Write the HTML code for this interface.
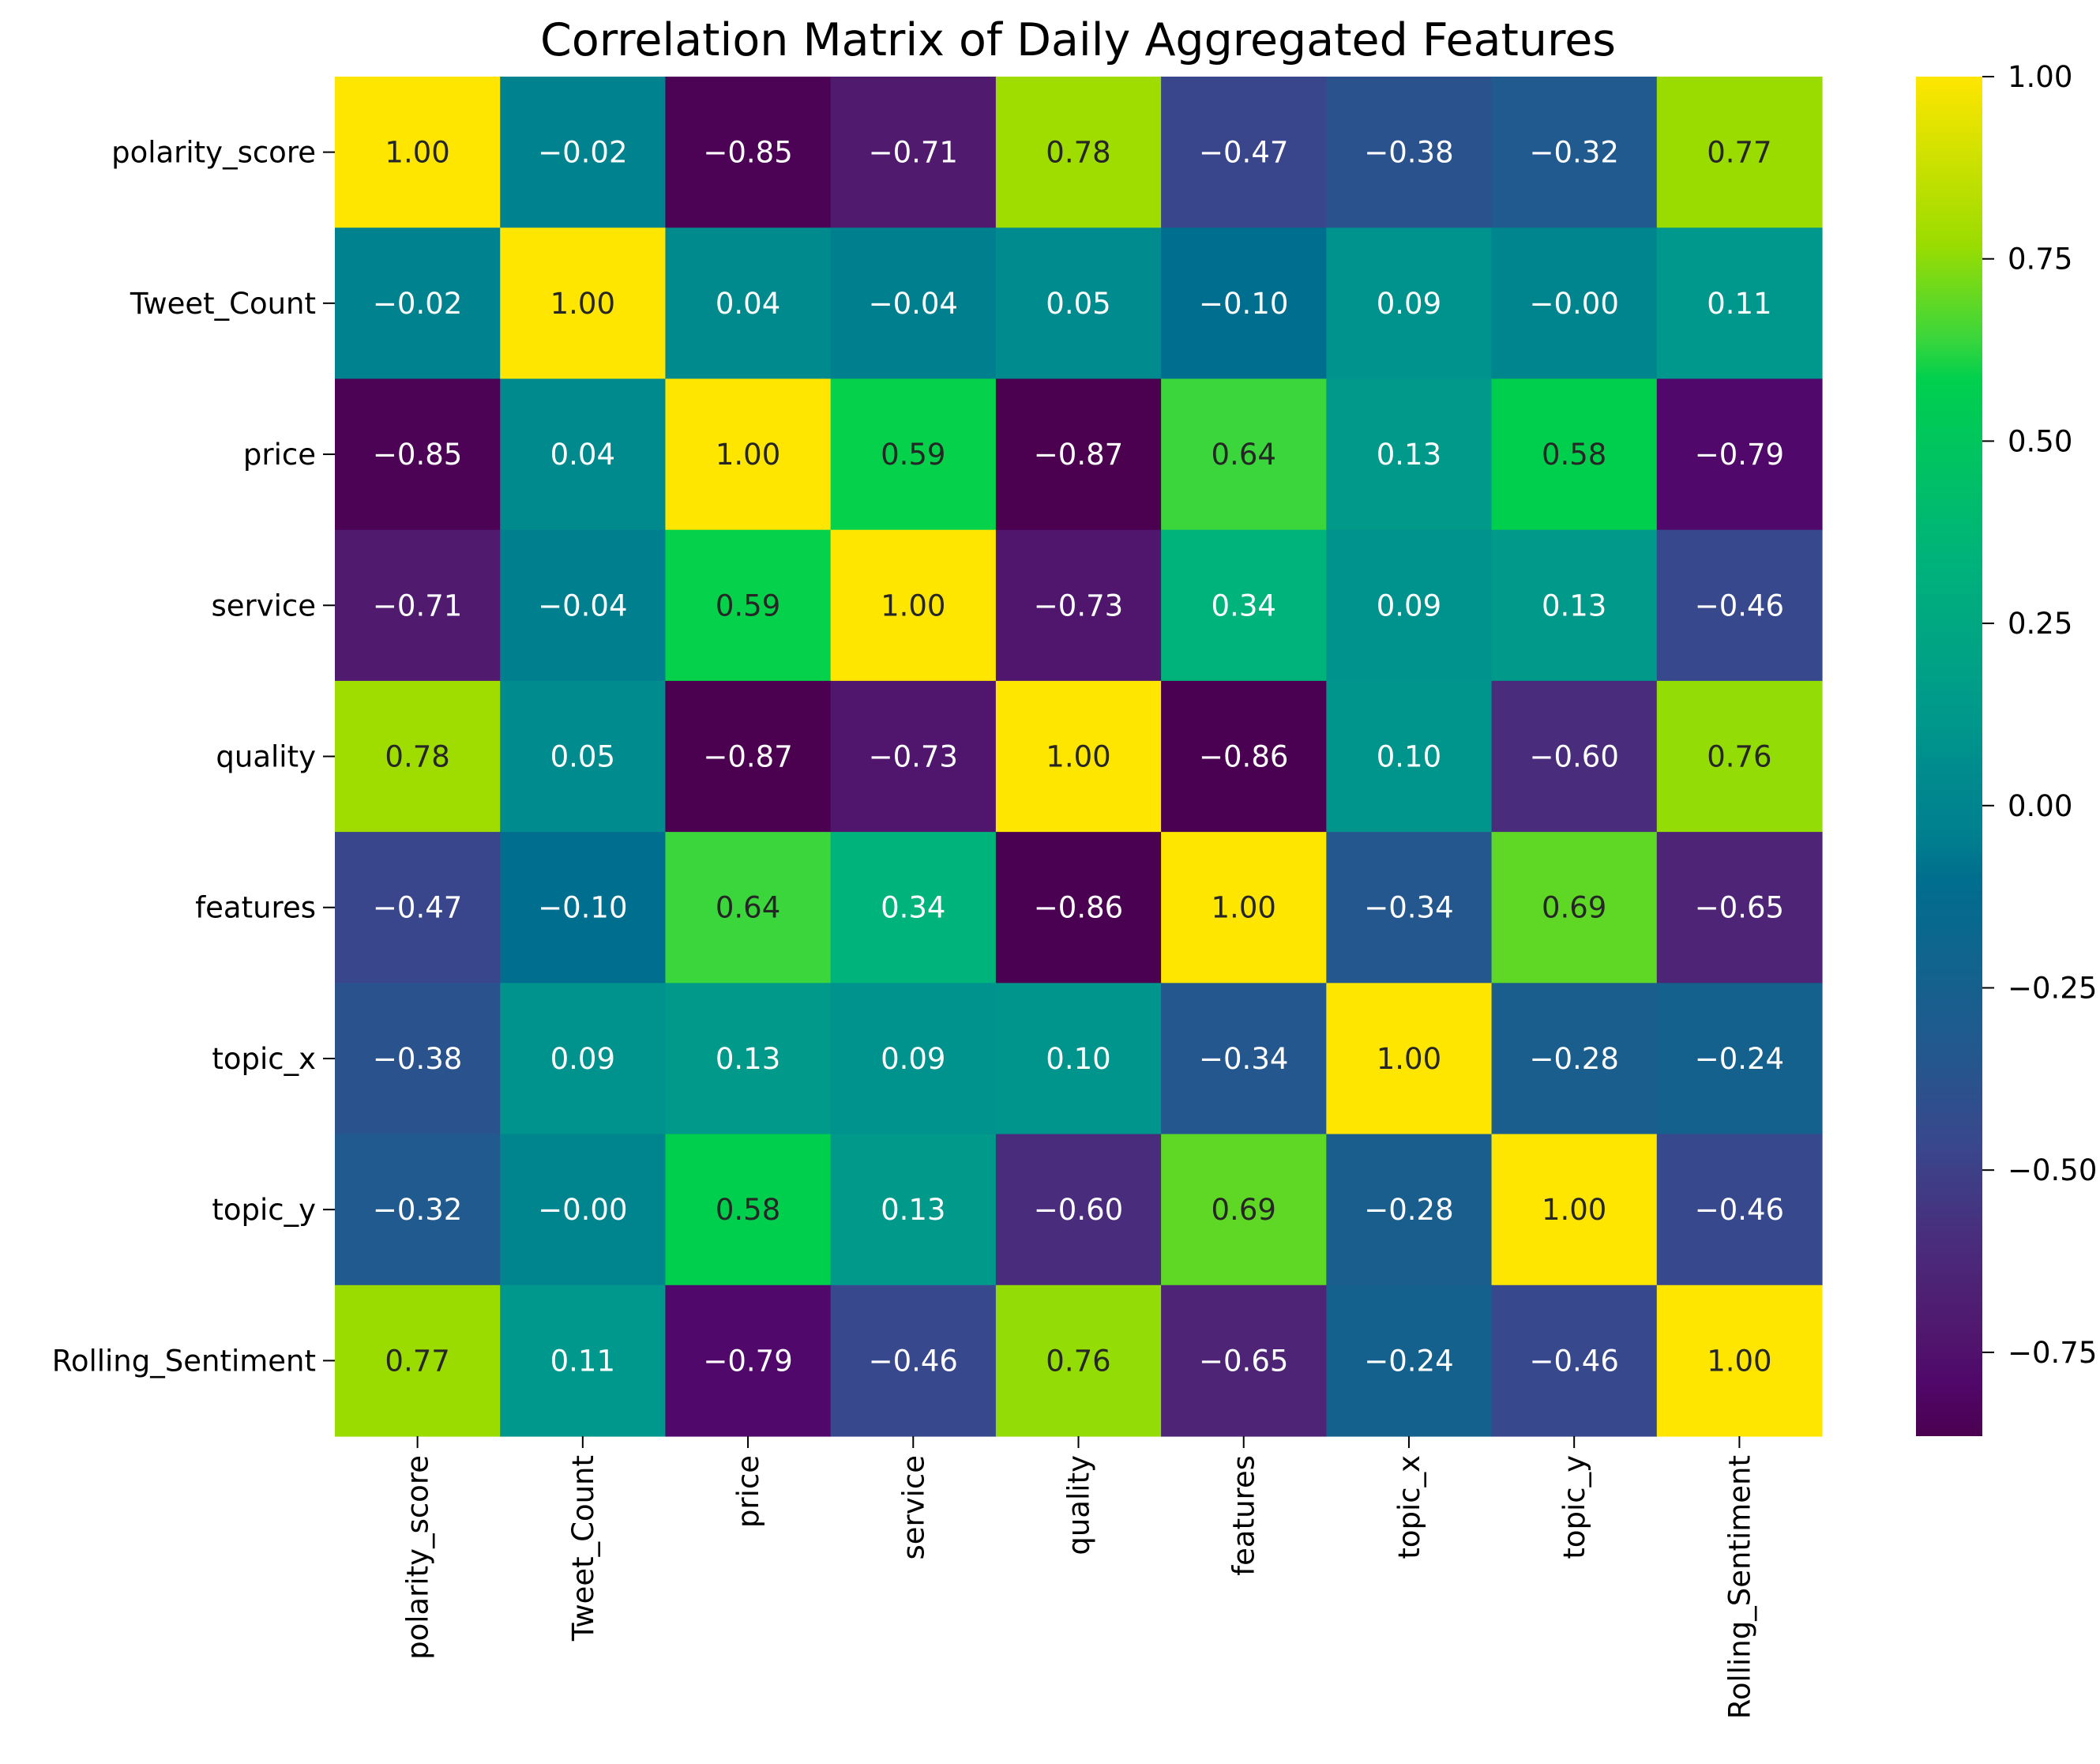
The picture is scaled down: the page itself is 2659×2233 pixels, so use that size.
<!DOCTYPE html>
<html><head><meta charset="utf-8"><style>
html,body{margin:0;padding:0;background:#fff;}
svg{display:block;font-family:"DejaVu Sans","Liberation Sans",sans-serif;}
</style></head><body>
<svg id="chart" width="2659" height="2233" viewBox="0 0 2659 2233" xmlns="http://www.w3.org/2000/svg">
<defs><linearGradient id="cbgrad" x1="0" y1="1" x2="0" y2="0"></linearGradient></defs>
<text x="1365" y="70" font-size="57" text-anchor="middle" fill="#000">Correlation Matrix of Daily Aggregated Features</text>
<g id="cells"></g><g id="ylab"></g><g id="xlab"></g><g id="cbar"></g>
</svg>
<script>
const labels = ["polarity_score","Tweet_Count","price","service","quality","features","topic_x","topic_y","Rolling_Sentiment"];
const row0 = [1.00,-0.02,-0.85,-0.71,0.78,-0.47,-0.38,-0.32,0.77];
const row1 = [-0.02,1.00,0.04,-0.04,0.05,-0.10,0.09,-0.00,0.11];
const row2 = [-0.85,0.04,1.00,0.59,-0.87,0.64,0.13,0.58,-0.79];
const row3 = [-0.71,-0.04,0.59,1.00,-0.73,0.34,0.09,0.13,-0.46];
const row4 = [0.78,0.05,-0.87,-0.73,1.00,-0.86,0.10,-0.60,0.76];
const row5 = [-0.47,-0.10,0.64,0.34,-0.86,1.00,-0.34,0.69,-0.65];
const row6 = [-0.38,0.09,0.13,0.09,0.10,-0.34,1.00,-0.28,-0.24];
const row7 = [-0.32,-0.00,0.58,0.13,-0.60,0.69,-0.28,1.00,-0.46];
const row8 = [0.77,0.11,-0.79,-0.46,0.76,-0.65,-0.24,-0.46,1.00];
const matrix = [row0,row1,row2,row3,row4,row5,row6,row7,row8];
const cbTicks = [1.00,0.75,0.50,0.25,0.00,-0.25,-0.50,-0.75];
const vmin = -0.865, vmax = 1.0;

const NS="http://www.w3.org/2000/svg";
const L=424,R=2307,T=97,B=1818;
const n=labels.length, cw=(R-L)/n, ch=(B-T)/n;
const xPos=i=>L+i*cw, yPos=i=>T+i*ch;
// saturated viridis-like colormap (value-space stops)
const cmV=[-0.865,-0.79,-0.72,-0.60,-0.46,-0.32,-0.10,-0.04,0.04,0.11,0.34,0.585,0.64,0.77,1.0];
const cmC=[[75,0,80],[80,8,106],[80,24,110],[74,44,124],[56,72,140],[32,90,142],[0,110,142],[0,128,143],[0,138,142],[0,151,140],[0,179,122],[0,208,77],[58,214,60],[155,220,0],[255,230,0]];
function cmap(v){v=Math.max(cmV[0],Math.min(1,v));let i=0;while(i<cmV.length-2&&v>cmV[i+1])i++;
 const f=(v-cmV[i])/(cmV[i+1]-cmV[i]);const a=cmC[i],b=cmC[i+1];return a.map((x,k)=>Math.round(x+(b[k]-x)*f));}
function lum(c){const l=c.map(x=>{x/=255;return x<=0.03928?x/12.92:Math.pow((x+0.055)/1.055,2.4);});return 0.2126*l[0]+0.7152*l[1]+0.0722*l[2];}
function mk(tag,attrs,parent){const e=document.createElementNS(NS,tag);for(const k in attrs)e.setAttribute(k,attrs[k]);parent.appendChild(e);return e;}
const cells=document.getElementById('cells');
matrix.forEach((row,r)=>row.forEach((v,c)=>{
 const col=cmap(v);
 const rect=mk('rect',{x:xPos(c),y:yPos(r),width:cw+0.6,height:ch+0.6,fill:`rgb(${col})`},cells);
 
 
 const t=mk('text',{x:xPos(c)+cw/2,y:yPos(r)+ch/2+13,'font-size':37,'text-anchor':'middle',fill:lum(col)>0.408?'#262626':'#fff'},cells);
 t.textContent=(v<0||(1/v)<0)?"\u2212"+Math.abs(v).toFixed(2):v.toFixed(2);
 
 
}));
const ylab=document.getElementById('ylab'), xlab=document.getElementById('xlab');
labels.forEach((lab,i)=>{
 const cy=yPos(i)+ch/2;
 mk('line',{x1:L-15,x2:L,y1:cy,y2:cy,stroke:'#000','stroke-width':2},ylab);
 const t=mk('text',{x:L-24,y:cy+13,'font-size':37,'text-anchor':'end',fill:'#000'},ylab);
 t.textContent=lab;
 
 
 const cx=xPos(i)+cw/2;
 mk('line',{x1:cx,x2:cx,y1:B,y2:B+15,stroke:'#000','stroke-width':2},xlab);
 const u=mk('text',{x:0,y:0,'font-size':37,'text-anchor':'end',fill:'#000',transform:`translate(${cx+13},${B+24}) rotate(-90)`},xlab);
 u.textContent=lab;
 
 
});
const grad=document.getElementById('cbgrad');
cmV.forEach((v,k)=>{mk('stop',{offset:(v-vmin)/(vmax-vmin),'stop-color':`rgb(${cmC[k]})`},grad);});
const cb=document.getElementById('cbar');
const CL=2426,CR=2510;
const cbY=v=>B-(v-vmin)/(vmax-vmin)*(B-T);
const cbr=mk('rect',{x:CL,y:T,width:CR-CL,height:B-T,fill:'url(#cbgrad)'},cb);


cbTicks.forEach(v=>{
 const y=cbY(v);
 mk('line',{x1:CR,x2:CR+15,y1:y,y2:y,stroke:'#000','stroke-width':2},cb);
 const t=mk('text',{x:CR+32,y:y+13,'font-size':37,fill:'#000'},cb);
 t.textContent=(v<0?"\u2212":"")+Math.abs(v).toFixed(2);
 
 
});
</script>
</body></html>
